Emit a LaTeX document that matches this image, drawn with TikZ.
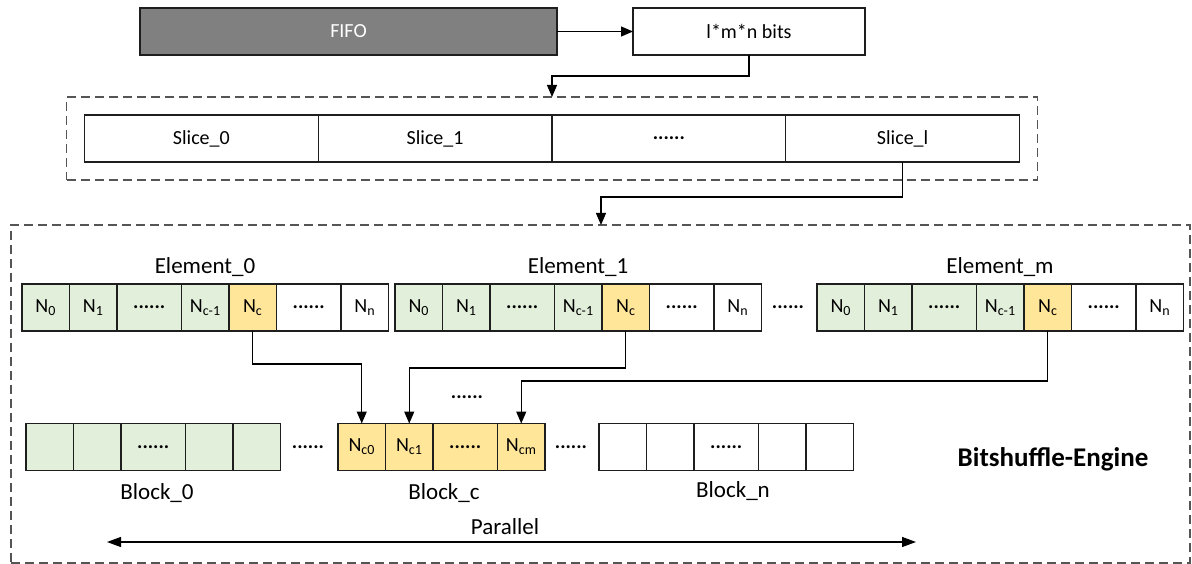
\documentclass[tikz,border=0pt]{standalone}
\usepackage{fontspec}
\setmainfont{Carlito}
\usepackage{tikz}
\usetikzlibrary{positioning, arrows.meta, fit, calc}
\definecolor{CellGreen}{RGB}{226,239,218}
\definecolor{CellYellow}{RGB}{255,230,153}
\definecolor{FifoGray}{RGB}{128,128,128}
\definecolor{DashGray}{RGB}{85,85,85}
\definecolor{LineDark}{RGB}{30,30,30}

\begin{document}
\begin{tikzpicture}[x=1pt, y=-1pt, line width=1.2pt,
    font=\fontsize{20}{24}\selectfont,
    cell/.style={draw=LineDark, minimum width=47.5pt, minimum height=47pt, inner sep=0pt, outer sep=0pt, anchor=west},
    wide/.style={minimum width=64.5pt},
    gcell/.style={fill=CellGreen},
    ycell/.style={fill=CellYellow},
    biglabel/.style={font=\fontsize{23}{27}\selectfont},
    arr/.style={-{Triangle[length=12pt, width=10pt]}},
    dashbox/.style={draw=DashGray, dash pattern=on 9pt off 5pt, inner sep=0pt, outer sep=0pt}]
  \useasboundingbox (0,0) rectangle (1192,564);

  % input stage
  \node[cell, fill=FifoGray, text=white, minimum width=417pt] (fifo) at (140,31.5) {FIFO};
  \node[cell, minimum width=232pt] (bits) at (633,31.5) {l*m*n bits};
  \draw[arr] (fifo) -- (bits);

  % slices
  \node[cell, minimum width=233.75pt] (s0) at (84.5,138.5) {Slice\_0};
  \node[cell, minimum width=233.75pt, right=0pt of s0] (s1) {Slice\_1};
  \node[cell, minimum width=233.75pt, right=0pt of s1] (s2) {\textbf{......}};
  \node[cell, minimum width=233.75pt, right=0pt of s2] (s3) {Slice\_l};
  \node[dashbox, fit=(s0)(s3), inner sep=18pt] (slicebox) {};
  \draw[arr] (bits.south) -- ++(0,21) -| (slicebox.north -| s1.east);

  % bitshuffle engine
  \node[dashbox, minimum width=1179pt, minimum height=338pt] (engine) at (600.5,394) {};
  \draw[arr] (s3.south) -- ++(0,35) -| ([xshift=590pt]engine.north west);

  \foreach \e/\x in {0/22, 1/395, m/817} {
    \node[cell, gcell] (e\e-0) at (\x,307.5) {N\textsubscript{0}};
    \node[cell, gcell, right=0pt of e\e-0] (e\e-1) {N\textsubscript{1}};
    \node[cell, gcell, wide, right=0pt of e\e-1] (e\e-2) {\textbf{......}};
    \node[cell, gcell, right=0pt of e\e-2] (e\e-3) {N\textsubscript{c-1}};
    \node[cell, ycell, right=0pt of e\e-3] (e\e-4) {N\textsubscript{c}};
    \node[cell, wide, right=0pt of e\e-4] (e\e-5) {\textbf{......}};
    \node[cell, right=0pt of e\e-5] (e\e-6) {N\textsubscript{n}};
    \node[biglabel] (elabel\e) at (\x+183,267) {Element\_\e};
  }
  \node (edots) at (788,307) {\textbf{......}};

  % blocks
  \node[cell, gcell] (b0-0) at (26,447) {};
  \node[cell, gcell, right=0pt of b0-0] (b0-1) {};
  \node[cell, gcell, wide, right=0pt of b0-1] (b0-2) {\textbf{......}};
  \node[cell, gcell, right=0pt of b0-2] (b0-3) {};
  \node[cell, gcell, right=0pt of b0-3] (b0-4) {};
  \node (bdots0) at (308,447) {\textbf{......}};
  \node[cell, ycell] (bc-0) at (338,447) {N\textsubscript{c0}};
  \node[cell, ycell, right=0pt of bc-0] (bc-1) {N\textsubscript{c1}};
  \node[cell, ycell, wide, right=0pt of bc-1] (bc-2) {\textbf{......}};
  \node[cell, ycell, right=0pt of bc-2] (bc-3) {N\textsubscript{cm}};
  \node (bdots1) at (571,447) {\textbf{......}};
  \node[cell] (bn-0) at (599,447) {};
  \node[cell, right=0pt of bn-0] (bn-1) {};
  \node[cell, wide, right=0pt of bn-1] (bn-2) {\textbf{......}};
  \node[cell, right=0pt of bn-2] (bn-3) {};
  \node[cell, right=0pt of bn-3] (bn-4) {};
  \node[biglabel] (blabel0) at (157,493) {Block\_0};
  \node[biglabel] (blabelc) at (444,493) {Block\_c};
  \node[biglabel] (blabeln) at (733,491) {Block\_n};

  \draw[arr] (e0-4.south) -- ++(0,33) -| (bc-0.north);
  \draw[arr] (e1-4.south) -- ++(0,37) -| (bc-1.north);
  \draw[arr] (em-4.south) -- ++(0,50) -| (bc-3.north);
  \node (adots) at (467,397) {\textbf{......}};

  \node[font=\fontsize{27}{32}\selectfont\bfseries] (title) at (1053,459) {Bitshuffle-Engine};

  % parallel arrow
  \coordinate (parl) at (107,542);
  \coordinate (parr) at (916,542);
  \draw[{Triangle[length=14pt, width=10pt]}-{Triangle[length=14pt, width=10pt]}] (parl) -- (parr);
  \node[biglabel] (parlabel) at (505,527) {Parallel};
\end{tikzpicture}
\end{document}
